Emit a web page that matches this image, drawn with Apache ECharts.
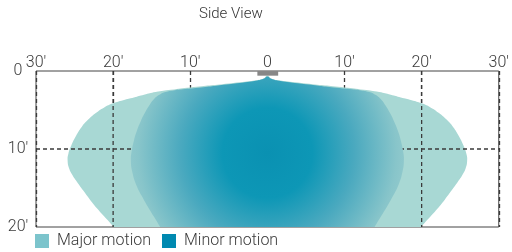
<!DOCTYPE html>
<html>
<head>
<meta charset="utf-8">
<script src="https://cdn.jsdelivr.net/npm/echarts@6/dist/echarts.min.js"></script>
<style>
  html, body { margin: 0; padding: 0; background: #fff; }
  #main { width: 512px; height: 252px; }
</style>
</head>
<body>
<div id="main"></div>
<script>
// distance from sensor in feet (x: sideways, y: depth)
const xTicks = [-30, -20, -10, 0, 10, 20, 30];
const yTicks = [0, 10, 20];

// outline of the major motion zone, clockwise from the sensor
const majorOutline = [
  [0, 0.6], [0.5, 0.95], [1.5, 1.2], [5, 1.6], [10, 2.1], [12.5, 2.4],
  [14.5, 2.7], [16, 3.05], [17.3, 3.4], [18.7, 3.75], [20, 4.15],
  [21.2, 4.7], [22.2, 5.35], [23.2, 6.2], [24.1, 7.2], [24.8, 8.3],
  [25.4, 9.5], [25.8, 10.6], [25.9, 11.5], [25.7, 12.5], [25.3, 13.3],
  [24.7, 14.2], [23.9, 15.3], [23.0, 16.5], [22.1, 17.6], [21.2, 18.6],
  [20.0, 19.9], [18.8, 21.2], [-18.8, 21.2],
  [-20.0, 19.9], [-21.2, 18.6], [-22.1, 17.6], [-23.0, 16.5], [-23.9, 15.3],
  [-24.7, 14.2], [-25.3, 13.3], [-25.7, 12.5], [-25.9, 11.5], [-25.8, 10.6],
  [-25.4, 9.5], [-24.8, 8.3], [-24.1, 7.2], [-23.2, 6.2], [-22.2, 5.35],
  [-21.2, 4.7], [-20, 4.15], [-18.7, 3.75], [-17.3, 3.4], [-16, 3.05],
  [-14.5, 2.7], [-12.5, 2.4], [-10, 2.1], [-5, 1.6], [-1.5, 1.2], [-0.5, 0.95]
];

// outline of the minor motion zone
const minorOutline = [
  [0, 0.7], [0.5, 1.0], [1.5, 1.25], [5, 1.7], [9, 2.15], [11, 2.35],
  [12.2, 2.5], [13.2, 2.7], [14.0, 3.05], [14.7, 3.6], [15.3, 4.4],
  [15.9, 5.4], [16.4, 6.4], [16.9, 7.6], [17.3, 8.9], [17.6, 10.3],
  [17.7, 11.5], [17.5, 13.0], [17.0, 14.6], [16.3, 16.0], [15.5, 17.4],
  [14.7, 18.7], [13.9, 20], [13.1, 21.2], [-13.1, 21.2],
  [-13.9, 20], [-14.7, 18.7], [-15.5, 17.4], [-16.3, 16.0], [-17.0, 14.6],
  [-17.5, 13.0], [-17.7, 11.5], [-17.6, 10.3], [-17.3, 8.9], [-16.9, 7.6],
  [-16.4, 6.4], [-15.9, 5.4], [-15.3, 4.4], [-14.7, 3.6], [-14.0, 3.05],
  [-13.2, 2.7], [-12.2, 2.5], [-11, 2.35], [-9, 2.15], [-5, 1.7],
  [-1.5, 1.25], [-0.5, 1.0]
];

// sensor housing [x0, y0, x1, y1]
const sensorBox = [-1.3, 0, 1.4, 0.6];

// dashed guide lines drawn over the major zone
const guide20Left = [[-20, 0], [-20, 20]];
const guide20Right = [[20, 0], [20, 20]];
const guide10Depth = [[-30, 10], [30, 10]];

const majorColor = '#a8d8d4';
const chart = echarts.init(document.getElementById('main'));

function polygonRenderer(outline, fillFn) {
  return function(params, api) {
    if (params.dataIndex !== 0) return null;
    const pts = outline.map(p => api.coord(p));
    return {
      type: 'polygon',
      shape: { points: pts, smooth: 0.5 },
      style: { fill: fillFn(api), stroke: null }
    };
  };
}

function guideSeries(data) {
  return {
    type: 'line',
    data: data,
    z: 3,
    symbol: 'none',
    silent: true,
    lineStyle: { color: '#3a3a3a', width: 1.3, type: [4, 3] }
  };
}

const labelStyle = {
  fontFamily: 'Roboto',
  fontWeight: 300,
  fontSize: 16,
  color: '#3a3a3a'
};

const option = {
  animation: false,
  title: {
    text: 'Side View',
    left: 199,
    top: 7,
    padding: 0,
    textStyle: { fontFamily: 'Roboto', fontWeight: 300, fontSize: 15, color: '#333' }
  },
  grid: {
    left: 36,
    right: 12,
    top: 71,
    bottom: 25,
    show: true,
    borderColor: '#444',
    borderWidth: 1
  },
  legend: {
    data: ['Major motion', 'Minor motion'],
    left: 35,
    top: 233,
    padding: 0,
    icon: 'rect',
    itemWidth: 14,
    itemHeight: 14,
    itemGap: 11,
    textStyle: Object.assign({ padding: [0, 0, 0, 3] }, labelStyle)
  },
  xAxis: {
    type: 'value',
    position: 'top',
    min: -30,
    max: 30,
    interval: 10,
    axisLine: { show: false },
    axisTick: { show: false },
    axisLabel: Object.assign({
      margin: 0,
      formatter: v => (v === 0 ? '0' : Math.abs(v) + '′')
    }, labelStyle),
    splitLine: {
      show: true,
      lineStyle: { color: '#3a3a3a', width: 1.3, type: [4, 3] }
    }
  },
  yAxis: {
    type: 'value',
    inverse: true,
    min: 0,
    max: 20,
    interval: 10,
    axisLine: { show: false },
    axisTick: { show: false },
    splitLine: { show: false },
    axisLabel: Object.assign({
      margin: 18,
      align: 'center',
      formatter: v => (v === 0 ? '0' : v + '′')
    }, labelStyle)
  },
  series: [
    {
      name: 'Major motion',
      type: 'custom',
      z: 2,
      clip: true,
      silent: true,
      itemStyle: { color: '#7cc4cc' },
      data: majorOutline,
      renderItem: polygonRenderer(majorOutline, () => majorColor)
    },
    guideSeries(guide20Left),
    guideSeries(guide20Right),
    guideSeries(guide10Depth),
    {
      name: 'Minor motion',
      type: 'custom',
      z: 4,
      clip: true,
      silent: true,
      itemStyle: { color: '#0089b0' },
      data: minorOutline,
      renderItem: polygonRenderer(minorOutline, api => {
        const c = api.coord([0, 10.5]);
        return new echarts.graphic.RadialGradient(c[0], c[1], 150, [
          { offset: 0, color: '#0a91b2' },
          { offset: 0.3, color: '#0d97b6' },
          { offset: 0.58, color: '#4aa9bf' },
          { offset: 0.86, color: '#88c5ca' },
          { offset: 1, color: '#9acecf' }
        ], true);
      })
    },
    {
      type: 'custom',
      z: 5,
      silent: true,
      data: [sensorBox],
      renderItem: (params, api) => {
        const a = api.coord([api.value(0), api.value(1)]);
        const b = api.coord([api.value(2), api.value(3)]);
        return {
          type: 'rect',
          shape: { x: a[0], y: a[1], width: b[0] - a[0], height: b[1] - a[1] },
          style: { fill: '#878787' }
        };
      }
    }
  ]
};

chart.setOption(option);
</script>
</body>
</html>
